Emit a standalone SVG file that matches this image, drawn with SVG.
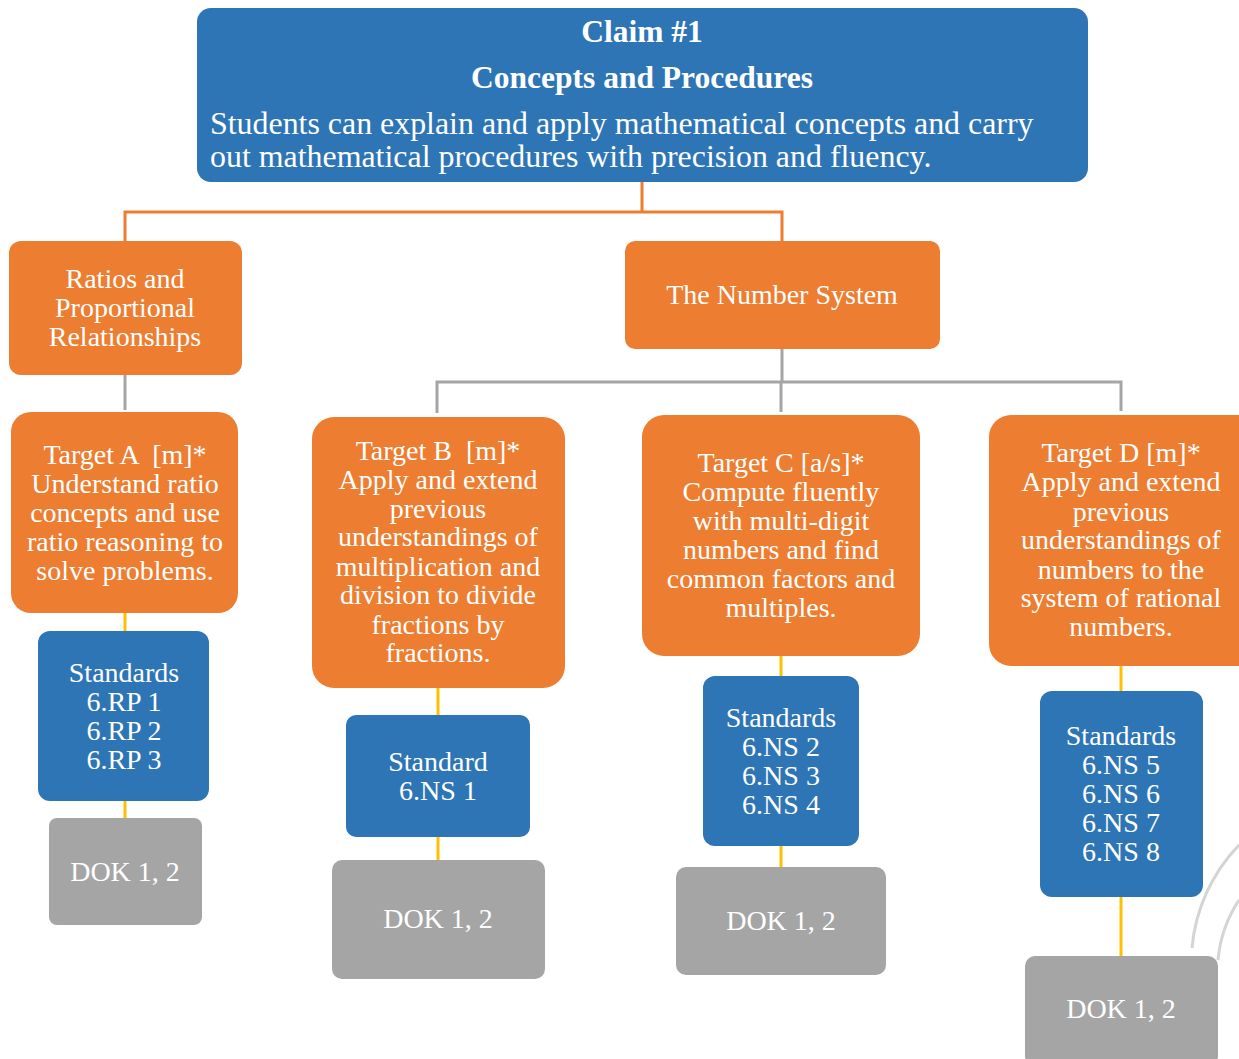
<svg xmlns="http://www.w3.org/2000/svg" width="1239" height="1059" viewBox="0 0 1239 1059">
<style>
text{font-family:"Liberation Serif","Times New Roman",serif;fill:#fff;text-anchor:middle;font-size:28px}
.b{fill:#2E75B6}
.o{fill:#ED7D31}
.g{fill:#A5A5A5}
.co{stroke:#ED7D31;stroke-width:3;fill:none}
.cg{stroke:#A5A5A5;stroke-width:3;fill:none}
.cy{stroke:#FFC000;stroke-width:3;fill:none}
.hd{font-weight:bold;font-size:31.5px}
.body{text-anchor:start;font-size:31.9px}
</style>
<rect width="1239" height="1059" fill="#fff"/>
<g id="watermark" fill="none" stroke="#d4d4d4" stroke-width="3">
<path d="M1239,845 A170,170 0 0 0 1192,948"/>
<path d="M1239,900 A130,130 0 0 0 1218,960"/>
</g>
<g id="connectors">
<path class="co" d="M642,182 V212 M125,241 V212 H782 V241"/>
<path class="cg" d="M125,375 V410"/>
<path class="cg" d="M782,349 V382 M437,413 V382 H1121 V411 M781,382 V412"/>
<path class="cy" d="M125,613 V631 M125,801 V818"/>
<path class="cy" d="M438,688 V715 M438,837 V860"/>
<path class="cy" d="M781,656 V676 M781,846 V867"/>
<path class="cy" d="M1121,666 V691 M1121,897 V956"/>
</g>
<g id="claim">
<rect class="b" x="197" y="8" width="891" height="174" rx="14"/>
<text class="hd" x="642" y="42">Claim #1</text>
<text class="hd" x="642" y="88">Concepts and Procedures</text>
<text class="body" x="210" y="134">Students can explain and apply mathematical concepts and carry</text>
<text class="body" x="210" y="167">out mathematical procedures with precision and fluency.</text>
</g>
<g id="ratios">
<rect class="o" x="9" y="241" width="233" height="134" rx="12"/>
<text x="125" y="288">Ratios and</text>
<text x="125" y="317">Proportional</text>
<text x="125" y="346">Relationships</text>
</g>
<g id="number-system">
<rect class="o" x="625" y="241" width="315" height="108" rx="10"/>
<text x="782" y="304">The Number System</text>
</g>
<g id="target-a">
<rect class="o" x="11" y="412" width="227" height="201" rx="20"/>
<text x="125" y="464" xml:space="preserve">Target A  [m]*</text>
<text x="125" y="493">Understand ratio</text>
<text x="125" y="522">concepts and use</text>
<text x="125" y="551">ratio reasoning to</text>
<text x="125" y="580">solve problems.</text>
</g>
<g id="target-b">
<rect class="o" x="312" y="417" width="253" height="271" rx="22"/>
<text x="438" y="460" xml:space="preserve">Target B  [m]*</text>
<text x="438" y="489">Apply and extend</text>
<text x="438" y="518">previous</text>
<text x="438" y="546">understandings of</text>
<text x="438" y="576">multiplication and</text>
<text x="438" y="604">division to divide</text>
<text x="438" y="634">fractions by</text>
<text x="438" y="662">fractions.</text>
</g>
<g id="target-c">
<rect class="o" x="642" y="415" width="278" height="241" rx="22"/>
<text x="781" y="472">Target C [a/s]*</text>
<text x="781" y="501">Compute fluently</text>
<text x="781" y="530">with multi-digit</text>
<text x="781" y="559">numbers and find</text>
<text x="781" y="588">common factors and</text>
<text x="781" y="617">multiples.</text>
</g>
<g id="target-d">
<rect class="o" x="989" y="415" width="270" height="251" rx="22"/>
<text x="1121" y="462">Target D [m]*</text>
<text x="1121" y="491">Apply and extend</text>
<text x="1121" y="521">previous</text>
<text x="1121" y="549">understandings of</text>
<text x="1121" y="579">numbers to the</text>
<text x="1121" y="607">system of rational</text>
<text x="1121" y="636">numbers.</text>
</g>
<g id="standards-a">
<rect class="b" x="38" y="631" width="171" height="170" rx="12"/>
<text x="124" y="682">Standards</text>
<text x="124" y="711">6.RP 1</text>
<text x="124" y="740">6.RP 2</text>
<text x="124" y="769">6.RP 3</text>
</g>
<g id="standard-b">
<rect class="b" x="346" y="715" width="184" height="122" rx="10"/>
<text x="438" y="771">Standard</text>
<text x="438" y="800">6.NS 1</text>
</g>
<g id="standards-c">
<rect class="b" x="703" y="676" width="156" height="170" rx="12"/>
<text x="781" y="727">Standards</text>
<text x="781" y="756">6.NS 2</text>
<text x="781" y="785">6.NS 3</text>
<text x="781" y="814">6.NS 4</text>
</g>
<g id="standards-d">
<rect class="b" x="1040" y="691" width="163" height="206" rx="12"/>
<text x="1121" y="745">Standards</text>
<text x="1121" y="774">6.NS 5</text>
<text x="1121" y="803">6.NS 6</text>
<text x="1121" y="832">6.NS 7</text>
<text x="1121" y="861">6.NS 8</text>
</g>
<g id="dok-a">
<rect class="g" x="49" y="818" width="153" height="107" rx="8"/>
<text x="125" y="881">DOK 1, 2</text>
</g>
<g id="dok-b">
<rect class="g" x="332" y="860" width="213" height="119" rx="10"/>
<text x="438" y="928">DOK 1, 2</text>
</g>
<g id="dok-c">
<rect class="g" x="676" y="867" width="210" height="108" rx="10"/>
<text x="781" y="930">DOK 1, 2</text>
</g>
<g id="dok-d">
<rect class="g" x="1025" y="956" width="193" height="110" rx="10"/>
<text x="1121" y="1018">DOK 1, 2</text>
</g>
</svg>
